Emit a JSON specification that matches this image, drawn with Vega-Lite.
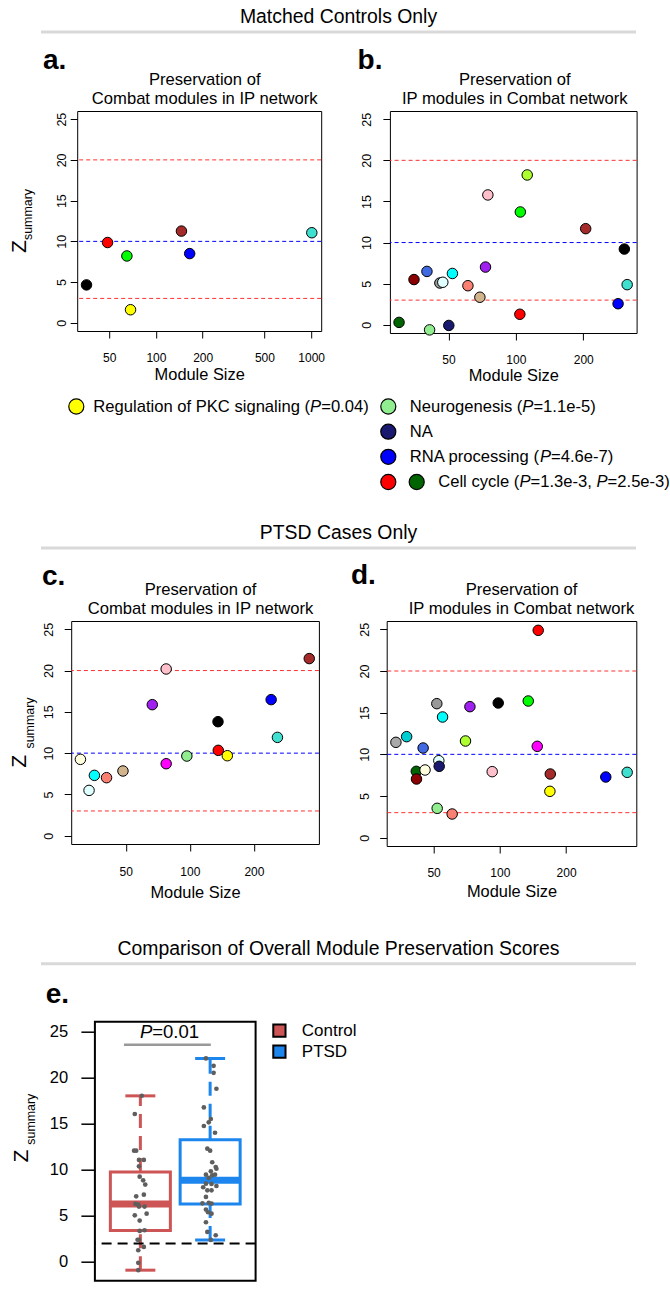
{
  "$schema": "https://vega.github.io/schema/vega-lite/v6.json",
  "padding": {"left": 0, "top": 6, "right": 0, "bottom": 0},
  "background": "white",
  "config": {
    "font": "Liberation Sans",
    "axis": {"labelColor": "black", "titleColor": "black", "tickColor": "black", "labelFont": "Liberation Sans", "titleFont": "Liberation Sans", "titleFontWeight": "normal", "grid": false, "domain": false},
    "title": {"color": "black", "font": "Liberation Sans", "fontWeight": "normal"},
    "text": {"font": "Liberation Sans", "color": "black"},
    "legend": {"labelFont": "Liberation Sans", "labelColor": "black"}
  },
  "datasets": {
    "thr": [{"v": 20, "c": "red"}, {"v": 10, "c": "blue"}, {"v": 3, "c": "red"}],
    "legtxt": [
      {"col": "L", "k": "s1", "row": 1, "piece": "L1a", "txt": "Regulation of PKC signaling ("},
      {"col": "L", "k": "s1", "row": 1, "piece": "L1p", "txt": "P"},
      {"col": "L", "k": "s1", "row": 1, "piece": "L1b", "txt": "=0.04)"},
      {"col": "R", "k": "s1", "row": 1, "piece": "R1a", "txt": "Neurogenesis ("},
      {"col": "R", "k": "s1", "row": 1, "piece": "R1p", "txt": "P"},
      {"col": "R", "k": "s1", "row": 1, "piece": "R1b", "txt": "=1.1e-5)"},
      {"col": "R", "k": "s1", "row": 2, "piece": "R2a", "txt": "NA"},
      {"col": "R", "k": "s1", "row": 3, "piece": "R3a", "txt": "RNA processing ("},
      {"col": "R", "k": "s1", "row": 3, "piece": "R3p", "txt": "P"},
      {"col": "R", "k": "s1", "row": 3, "piece": "R3b", "txt": "=4.6e-7)"},
      {"col": "R", "k": "s2", "row": 4, "piece": "R4a", "txt": "Cell cycle ("},
      {"col": "R", "k": "s2", "row": 4, "piece": "R4p", "txt": "P"},
      {"col": "R", "k": "s2", "row": 4, "piece": "R4b", "txt": "=1.3e-3,"},
      {"col": "R", "k": "s2", "row": 4, "piece": "R4q", "txt": "P"},
      {"col": "R", "k": "s2", "row": 4, "piece": "R4c", "txt": "=2.5e-3)"}
    ],
    "pa": [
      {"size": 35.7, "z": 4.66, "module": "black"},
      {"size": 48.8, "z": 9.86, "module": "red"},
      {"size": 65.0, "z": 8.21, "module": "green"},
      {"size": 68.6, "z": 1.61, "module": "yellow"},
      {"size": 146, "z": 11.26, "module": "brown"},
      {"size": 165, "z": 8.5, "module": "blue"},
      {"size": 1010, "z": 11.06, "module": "turquoise"}
    ],
    "pb": [
      {"size": 30.1, "z": 0.29, "module": "darkgreen"},
      {"size": 35.1, "z": 5.5, "module": "darkred"},
      {"size": 40.1, "z": 6.49, "module": "royalblue"},
      {"size": 41.2, "z": -0.62, "module": "lightgreen"},
      {"size": 45.8, "z": 5.08, "module": "grey60"},
      {"size": 47.2, "z": 5.17, "module": "lightcyan"},
      {"size": 50.2, "z": -0.08, "module": "midnightblue"},
      {"size": 52.1, "z": 6.24, "module": "cyan"},
      {"size": 61.1, "z": 4.75, "module": "salmon"},
      {"size": 69.1, "z": 3.35, "module": "tan"},
      {"size": 73.2, "z": 7.02, "module": "purple"},
      {"size": 75.0, "z": 15.79, "module": "pink"},
      {"size": 104.2, "z": 1.28, "module": "red"},
      {"size": 104.7, "z": 13.72, "module": "green"},
      {"size": 112.4, "z": 18.22, "module": "greenyellow"},
      {"size": 205, "z": 11.69, "module": "brown"},
      {"size": 286, "z": 2.56, "module": "blue"},
      {"size": 305, "z": 9.21, "module": "black"},
      {"size": 314, "z": 4.88, "module": "turquoise"}
    ],
    "pc": [
      {"size": 30.6, "z": 9.25, "module": "lightyellow"},
      {"size": 33.6, "z": 5.49, "module": "lightcyan"},
      {"size": 35.6, "z": 7.31, "module": "cyan"},
      {"size": 40.6, "z": 7.03, "module": "salmon"},
      {"size": 48.5, "z": 7.84, "module": "tan"},
      {"size": 66.6, "z": 15.87, "module": "purple"},
      {"size": 77.4, "z": 20.19, "module": "pink"},
      {"size": 77.4, "z": 8.72, "module": "magenta"},
      {"size": 96.8, "z": 9.65, "module": "lightgreen"},
      {"size": 135.6, "z": 13.81, "module": "black"},
      {"size": 136, "z": 10.34, "module": "red"},
      {"size": 150, "z": 9.69, "module": "yellow"},
      {"size": 241, "z": 16.48, "module": "blue"},
      {"size": 258, "z": 11.91, "module": "turquoise"},
      {"size": 364, "z": 21.45, "module": "brown"}
    ],
    "pd": [
      {"size": 33.7, "z": 11.44, "module": "darkgrey"},
      {"size": 37.7, "z": 12.12, "module": "darkturquoise"},
      {"size": 41.7, "z": 7.96, "module": "darkgreen"},
      {"size": 41.8, "z": 7.04, "module": "darkred"},
      {"size": 44.8, "z": 10.76, "module": "royalblue"},
      {"size": 45.7, "z": 8.12, "module": "lightyellow"},
      {"size": 51.7, "z": 16.08, "module": "grey60"},
      {"size": 51.9, "z": 3.52, "module": "lightgreen"},
      {"size": 52.8, "z": 9.24, "module": "lightcyan"},
      {"size": 53.0, "z": 8.56, "module": "midnightblue"},
      {"size": 54.9, "z": 14.48, "module": "cyan"},
      {"size": 60.7, "z": 2.84, "module": "salmon"},
      {"size": 69.8, "z": 11.6, "module": "greenyellow"},
      {"size": 73.1, "z": 15.72, "module": "purple"},
      {"size": 92.3, "z": 7.92, "module": "pink"},
      {"size": 98.3, "z": 16.16, "module": "black"},
      {"size": 134.6, "z": 16.4, "module": "green"},
      {"size": 147.9, "z": 10.96, "module": "magenta"},
      {"size": 149.4, "z": 24.88, "module": "red"},
      {"size": 169.5, "z": 7.64, "module": "brown"},
      {"size": 168.8, "z": 5.56, "module": "yellow"},
      {"size": 303, "z": 7.28, "module": "blue"},
      {"size": 379, "z": 7.84, "module": "turquoise"}
    ],
    "estats": [
      {"group": "Control", "pos": 1, "q1": 3.39, "q3": 9.75, "med": 6.28, "lo": -0.9, "hi": 18.0},
      {"group": "PTSD", "pos": 2, "q1": 6.28, "q3": 13.25, "med": 8.84, "lo": 2.38, "hi": 22.06}
    ],
    "epts": [
      {"group": "Control", "jx": 1.02, "z": 18.01}, {"group": "Control", "jx": 0.92, "z": 16.03},
      {"group": "Control", "jx": 0.91, "z": 12.06}, {"group": "Control", "jx": 0.94, "z": 12.06},
      {"group": "Control", "jx": 0.98, "z": 11.05}, {"group": "Control", "jx": 1.05, "z": 11.05},
      {"group": "Control", "jx": 0.98, "z": 10.36}, {"group": "Control", "jx": 0.99, "z": 9.24},
      {"group": "Control", "jx": 1.04, "z": 8.84}, {"group": "Control", "jx": 1.07, "z": 8.38},
      {"group": "Control", "jx": 0.94, "z": 7.11}, {"group": "Control", "jx": 1.05, "z": 7.29},
      {"group": "Control", "jx": 0.93, "z": 6.3}, {"group": "Control", "jx": 0.97, "z": 6.2},
      {"group": "Control", "jx": 0.98, "z": 6.0}, {"group": "Control", "jx": 1.06, "z": 6.0},
      {"group": "Control", "jx": 1.09, "z": 5.23}, {"group": "Control", "jx": 0.92, "z": 5.05},
      {"group": "Control", "jx": 0.99, "z": 4.48}, {"group": "Control", "jx": 0.99, "z": 3.36},
      {"group": "Control", "jx": 1.06, "z": 3.43}, {"group": "Control", "jx": 0.96, "z": 2.4},
      {"group": "Control", "jx": 0.98, "z": 2.4}, {"group": "Control", "jx": 1.05, "z": 1.62},
      {"group": "Control", "jx": 0.97, "z": 1.26}, {"group": "Control", "jx": 0.97, "z": -0.1},
      {"group": "Control", "jx": 0.97, "z": -0.9},
      {"group": "PTSD", "jx": 1.94, "z": 22.06}, {"group": "PTSD", "jx": 2.05, "z": 21.26},
      {"group": "PTSD", "jx": 2.05, "z": 20.5}, {"group": "PTSD", "jx": 2.09, "z": 18.77},
      {"group": "PTSD", "jx": 1.91, "z": 16.75}, {"group": "PTSD", "jx": 2.01, "z": 15.49},
      {"group": "PTSD", "jx": 1.98, "z": 15.13}, {"group": "PTSD", "jx": 1.91, "z": 14.73},
      {"group": "PTSD", "jx": 2.07, "z": 14.0}, {"group": "PTSD", "jx": 1.96, "z": 12.27},
      {"group": "PTSD", "jx": 2.0, "z": 12.06}, {"group": "PTSD", "jx": 2.03, "z": 10.8},
      {"group": "PTSD", "jx": 2.08, "z": 10.29}, {"group": "PTSD", "jx": 2.09, "z": 10.1},
      {"group": "PTSD", "jx": 2.01, "z": 9.82}, {"group": "PTSD", "jx": 1.94, "z": 9.46},
      {"group": "PTSD", "jx": 2.03, "z": 9.39}, {"group": "PTSD", "jx": 2.07, "z": 9.46},
      {"group": "PTSD", "jx": 1.98, "z": 9.1}, {"group": "PTSD", "jx": 1.94, "z": 8.48},
      {"group": "PTSD", "jx": 1.9, "z": 8.09}, {"group": "PTSD", "jx": 2.02, "z": 8.45},
      {"group": "PTSD", "jx": 2.09, "z": 8.23}, {"group": "PTSD", "jx": 1.96, "z": 7.76},
      {"group": "PTSD", "jx": 2.02, "z": 7.76}, {"group": "PTSD", "jx": 1.94, "z": 7.04},
      {"group": "PTSD", "jx": 1.98, "z": 6.39}, {"group": "PTSD", "jx": 1.89, "z": 6.35},
      {"group": "PTSD", "jx": 2.02, "z": 6.32}, {"group": "PTSD", "jx": 1.94, "z": 5.67},
      {"group": "PTSD", "jx": 1.97, "z": 5.38}, {"group": "PTSD", "jx": 2.02, "z": 5.23},
      {"group": "PTSD", "jx": 1.94, "z": 4.3}, {"group": "PTSD", "jx": 1.96, "z": 3.25},
      {"group": "PTSD", "jx": 2.08, "z": 2.89}, {"group": "PTSD", "jx": 2.01, "z": 2.38}
    ]
  },
  "columns": 1,
  "align": "none",
  "spacing": 35.7,
  "resolve": {"scale": {"x": "independent", "y": "independent", "fill": "independent", "stroke": "independent", "color": "independent"}, "axis": {"x": "independent", "y": "independent"}, "legend": {"fill": "independent", "stroke": "independent", "color": "independent"}},
  "concat": [
    {
      "columns": 1,
      "align": "none",
      "spacing": 0,
      "resolve": {"scale": {"x": "independent", "y": "independent", "fill": "independent", "stroke": "independent", "color": "independent"}, "axis": {"x": "independent", "y": "independent"}, "legend": {"fill": "independent", "stroke": "independent", "color": "independent"}},
      "concat": [
        {
          "spacing": 38,
          "resolve": {"scale": {"x": "independent", "y": "independent"}, "axis": {"x": "independent", "y": "independent"}},
          "hconcat": [
            {"width": 1, "height": 1, "view": {"stroke": null}, "data": {"values": [{}]}, "mark": {"type": "rule", "strokeOpacity": 0}, "encoding": {"x": {"datum": 0, "type": "quantitative", "axis": null}}},
            {
              "width": 595, "height": 14.3,
              "view": {"stroke": null},
              "title": {"text": "Matched Controls Only", "fontSize": 19.4, "fontWeight": "normal", "anchor": "middle", "frame": "group", "baseline": "alphabetic", "offset": -11.75},
              "data": {"values": [{}]},
              "mark": {"type": "rule", "color": "#d9d9d9", "strokeWidth": 3},
              "encoding": {
                "x": {"datum": 0, "type": "quantitative", "scale": {"domain": [0, 1]}, "axis": null},
                "x2": {"datum": 1},
                "y": {"datum": 1, "type": "quantitative", "scale": {"domain": [0, 1]}, "axis": null}
              }
            }
          ]
        },
        {
          "spacing": 6.2,
          "resolve": {"scale": {"x": "independent", "y": "independent"}, "axis": {"x": "independent", "y": "independent"}},
          "hconcat": [
            {"width": 1, "height": 1, "view": {"stroke": null}, "data": {"values": [{}]}, "mark": {"type": "rule", "strokeOpacity": 0}, "encoding": {"x": {"datum": 0, "type": "quantitative", "axis": null}}},
            {
              "spacing": 31.7,
              "resolve": {"scale": {"x": "independent", "y": "independent", "fill": "independent", "stroke": "independent"}, "axis": {"x": "independent", "y": "independent"}},
              "hconcat": [
                {
                  "title": {"text": "a.", "fontSize": 28, "fontWeight": "bold", "anchor": "start", "frame": "bounds", "baseline": "alphabetic", "offset": -25.2, "dx": 34.8},
                  "vconcat": [
                    {
                      "width": 244, "height": 220,
                      "view": {"stroke": "black", "strokeWidth": 1},
                      "title": {"text": ["Preservation of", "Combat modules in IP network"], "fontSize": 16.6, "fontWeight": "normal", "anchor": "middle", "frame": "group", "baseline": "alphabetic", "offset": -9.5, "lineHeight": 18.5, "dx": 5.5},
                      "resolve": {"axis": {"y": "independent"}},
                      "layer": [
                        {
                          "data": {"name": "thr"},
                          "mark": {"type": "rule", "strokeDash": [4, 3], "strokeWidth": 1},
                          "encoding": {
                            "y": {"field": "v", "type": "quantitative", "scale": {"domain": [-1, 26], "nice": false, "zero": false},
                              "axis": {"orient": "left", "values": [0, 5, 10, 15, 20, 25], "labelAngle": 270, "labelAlign": "center", "labelBaseline": "middle", "labelFontSize": 12.5, "labelPadding": 9, "tickSize": 7, "title": "Z", "titleFontSize": 21, "titleAngle": 270, "titleAlign": "center", "titleBaseline": "middle", "titleX": -57.6, "titleY": 135}},
                            "stroke": {"field": "c", "type": "nominal", "scale": {"domain": ["red", "blue"], "range": ["#FF3030", "#0000FF"]}, "legend": null}
                          }
                        },
                        {
                          "data": {"name": "pa"},
                          "mark": {"type": "circle", "size": 110, "stroke": "black", "strokeWidth": 1, "opacity": 1},
                          "encoding": {
                            "x": {"field": "size", "type": "quantitative", "scale": {"type": "log", "domain": [31.1, 1161], "nice": false},
                              "axis": {"values": [50, 100, 200, 500, 1000], "format": "d", "labelFontSize": 12, "labelPadding": 14.6, "tickSize": 7, "labelFlush": false, "labelOverlap": false, "title": "Module Size", "titleFontSize": 16.4, "titlePadding": 3.3}},
                            "y": {"field": "z", "type": "quantitative", "scale": {"domain": [-1, 26], "nice": false, "zero": false},
                              "axis": {"orient": "left", "labels": false, "ticks": false, "domain": false, "grid": false, "title": "summary", "titleFontSize": 12.4, "titleAngle": 270, "titleAlign": "center", "titleBaseline": "middle", "titleX": -49.3, "titleY": 103}},
                            "fill": {"field": "module", "type": "nominal", "legend": null, "scale": {"domain": ["turquoise","blue","brown","yellow","green","red","black","pink","magenta","purple","greenyellow","tan","salmon","cyan","midnightblue","lightcyan","grey60","lightgreen","lightyellow","royalblue","darkred","darkgreen","darkturquoise","darkgrey"], "range": ["#40E0D0","#0000FF","#A52A2A","#FFFF00","#00FF00","#FF0000","#000000","#FFC0CB","#FF00FF","#A020F0","#ADFF2F","#D2B48C","#FA8072","#00FFFF","#191970","#E0FFFF","#999999","#90EE90","#FFFFE0","#4169E1","#8B0000","#006400","#00CED1","#A9A9A9"]}}
                          }
                        }
                      ]
                    }
                  ]
                },
                {
                  "title": {"text": "b.", "fontSize": 28, "fontWeight": "bold", "anchor": "start", "frame": "group", "baseline": "alphabetic", "offset": -25.2, "dx": -32.3},
                  "vconcat": [
                    {
                      "width": 246.7, "height": 222,
                      "view": {"stroke": "black", "strokeWidth": 1},
                      "title": {"text": ["Preservation of", "IP modules in Combat network"], "fontSize": 16.6, "fontWeight": "normal", "anchor": "middle", "frame": "group", "baseline": "alphabetic", "offset": -9.5, "lineHeight": 18.5, "dx": 1.5},
                      "resolve": {"axis": {"y": "independent"}},
                      "layer": [
                        {
                          "data": {"name": "thr"},
                          "mark": {"type": "rule", "strokeDash": [4, 3], "strokeWidth": 1},
                          "encoding": {
                            "y": {"field": "v", "type": "quantitative", "scale": {"domain": [-1, 26], "nice": false, "zero": false},
                              "axis": {"orient": "left", "values": [0, 5, 10, 15, 20, 25], "labelAngle": 270, "labelAlign": "center", "labelBaseline": "middle", "labelFontSize": 12.5, "labelPadding": 16, "tickSize": 7, "title": null}},
                            "stroke": {"field": "c", "type": "nominal", "scale": {"domain": ["red", "blue"], "range": ["#FF3030", "#0000FF"]}, "legend": null}
                          }
                        },
                        {
                          "data": {"name": "pb"},
                          "mark": {"type": "circle", "size": 110, "stroke": "black", "strokeWidth": 1, "opacity": 1},
                          "encoding": {
                            "x": {"field": "size", "type": "quantitative", "scale": {"type": "log", "domain": [27.4, 346], "nice": false},
                              "axis": {"values": [50, 100, 200], "format": "d", "labelFontSize": 12, "labelPadding": 14.8, "tickSize": 7, "labelFlush": false, "labelOverlap": false, "title": "Module Size", "titleFontSize": 16.4, "titlePadding": 2}},
                            "y": {"field": "z", "type": "quantitative", "scale": {"domain": [-1, 26], "nice": false, "zero": false}, "axis": null},
                            "fill": {"field": "module", "type": "nominal", "legend": null, "scale": {"domain": ["turquoise","blue","brown","yellow","green","red","black","pink","magenta","purple","greenyellow","tan","salmon","cyan","midnightblue","lightcyan","grey60","lightgreen","lightyellow","royalblue","darkred","darkgreen","darkturquoise","darkgrey"], "range": ["#40E0D0","#0000FF","#A52A2A","#FFFF00","#00FF00","#FF0000","#000000","#FFC0CB","#FF00FF","#A020F0","#ADFF2F","#D2B48C","#FA8072","#00FFFF","#191970","#E0FFFF","#999999","#90EE90","#FFFFE0","#4169E1","#8B0000","#006400","#00CED1","#A9A9A9"]}}
                          }
                        }
                      ]
                    }
                  ]
                }
              ]
            }
          ]
        },
        {
          "width": 660, "height": 136.2,
          "view": {"stroke": null},
          "data": {"values": [
            {"col": "L", "k": "s1", "row": 1, "module": "yellow"},
            {"col": "R", "k": "s1", "row": 1, "module": "lightgreen"},
            {"col": "R", "k": "s1", "row": 2, "module": "midnightblue"},
            {"col": "R", "k": "s1", "row": 3, "module": "blue"},
            {"col": "R", "k": "s1", "row": 4, "module": "red"},
            {"col": "R", "k": "s2", "row": 4, "module": "darkgreen"}
          ]},
          "encoding": {
            "x": {"field": "col", "type": "nominal", "scale": {"type": "point", "domain": ["L", "R"], "range": [76.3, 388.3], "padding": 0}, "axis": null},
            "xOffset": {"field": "k", "type": "nominal", "scale": {"type": "point", "domain": ["s1", "s2"], "range": [0, 28.4], "padding": 0}},
            "y": {"field": "row", "type": "ordinal", "scale": {"type": "point", "domain": [1, 2, 3, 4], "range": [21.5, 97], "padding": 0}, "axis": null}
          },
          "layer": [
            {
              "mark": {"type": "circle", "size": 227, "stroke": "black", "strokeWidth": 1.2, "opacity": 1},
              "encoding": {
                "fill": {"field": "module", "type": "nominal", "legend": null, "scale": {"domain": ["yellow", "lightgreen", "midnightblue", "blue", "red", "darkgreen"], "range": ["#FFFF00", "#90EE90", "#191970", "#0000FF", "#FF0000", "#006400"]}}
              }
            },
            {"data": {"name": "legtxt"}, "transform": [{"filter": {"field": "piece", "equal": "L1a"}}], "mark": {"type": "text", "align": "left", "baseline": "middle", "dx": 17, "fontSize": 16.6}, "encoding": {"text": {"field": "txt"}}},
            {"data": {"name": "legtxt"}, "transform": [{"filter": {"field": "piece", "equal": "L1p"}}], "mark": {"type": "text", "align": "left", "baseline": "middle", "dx": 233.8, "fontSize": 16.6, "fontStyle": "italic"}, "encoding": {"text": {"field": "txt"}}},
            {"data": {"name": "legtxt"}, "transform": [{"filter": {"field": "piece", "equal": "L1b"}}], "mark": {"type": "text", "align": "left", "baseline": "middle", "dx": 244.9, "fontSize": 16.6}, "encoding": {"text": {"field": "txt"}}},
            {"data": {"name": "legtxt"}, "transform": [{"filter": {"field": "piece", "oneOf": ["R1a", "R2a", "R3a", "R4a"]}}], "mark": {"type": "text", "align": "left", "baseline": "middle", "dx": 21.5, "fontSize": 16.6}, "encoding": {"text": {"field": "txt"}}},
            {"data": {"name": "legtxt"}, "transform": [{"filter": {"field": "piece", "equal": "R1p"}}], "mark": {"type": "text", "align": "left", "baseline": "middle", "dx": 134.0, "fontSize": 16.6, "fontStyle": "italic"}, "encoding": {"text": {"field": "txt"}}},
            {"data": {"name": "legtxt"}, "transform": [{"filter": {"field": "piece", "equal": "R1b"}}], "mark": {"type": "text", "align": "left", "baseline": "middle", "dx": 145.1, "fontSize": 16.6}, "encoding": {"text": {"field": "txt"}}},
            {"data": {"name": "legtxt"}, "transform": [{"filter": {"field": "piece", "equal": "R3p"}}], "mark": {"type": "text", "align": "left", "baseline": "middle", "dx": 151.6, "fontSize": 16.6, "fontStyle": "italic"}, "encoding": {"text": {"field": "txt"}}},
            {"data": {"name": "legtxt"}, "transform": [{"filter": {"field": "piece", "equal": "R3b"}}], "mark": {"type": "text", "align": "left", "baseline": "middle", "dx": 162.7, "fontSize": 16.6}, "encoding": {"text": {"field": "txt"}}},
            {"data": {"name": "legtxt"}, "transform": [{"filter": {"field": "piece", "equal": "R4p"}}], "mark": {"type": "text", "align": "left", "baseline": "middle", "dx": 102.7, "fontSize": 16.6, "fontStyle": "italic"}, "encoding": {"text": {"field": "txt"}}},
            {"data": {"name": "legtxt"}, "transform": [{"filter": {"field": "piece", "equal": "R4b"}}], "mark": {"type": "text", "align": "left", "baseline": "middle", "dx": 113.8, "fontSize": 16.6}, "encoding": {"text": {"field": "txt"}}},
            {"data": {"name": "legtxt"}, "transform": [{"filter": {"field": "piece", "equal": "R4q"}}], "mark": {"type": "text", "align": "left", "baseline": "middle", "dx": 179.8, "fontSize": 16.6, "fontStyle": "italic"}, "encoding": {"text": {"field": "txt"}}},
            {"data": {"name": "legtxt"}, "transform": [{"filter": {"field": "piece", "equal": "R4c"}}], "mark": {"type": "text", "align": "left", "baseline": "middle", "dx": 190.9, "fontSize": 16.6}, "encoding": {"text": {"field": "txt"}}}
          ]
        },
        {
          "spacing": 38,
          "resolve": {"scale": {"x": "independent", "y": "independent"}, "axis": {"x": "independent", "y": "independent"}},
          "hconcat": [
            {"width": 1, "height": 1, "view": {"stroke": null}, "data": {"values": [{}]}, "mark": {"type": "rule", "strokeOpacity": 0}, "encoding": {"x": {"datum": 0, "type": "quantitative", "axis": null}}},
            {
              "width": 595, "height": 12.2,
              "view": {"stroke": null},
              "title": {"text": "PTSD Cases Only", "fontSize": 19.4, "fontWeight": "normal", "anchor": "middle", "frame": "group", "baseline": "alphabetic", "offset": -11.75},
              "data": {"values": [{}]},
              "mark": {"type": "rule", "color": "#d9d9d9", "strokeWidth": 3},
              "encoding": {
                "x": {"datum": 0, "type": "quantitative", "scale": {"domain": [0, 1]}, "axis": null},
                "x2": {"datum": 1},
                "y": {"datum": 1, "type": "quantitative", "scale": {"domain": [0, 1]}, "axis": null}
              }
            }
          ]
        },
        {
          "spacing": 7.2,
          "resolve": {"scale": {"x": "independent", "y": "independent"}, "axis": {"x": "independent", "y": "independent"}},
          "hconcat": [
            {"width": 1, "height": 1, "view": {"stroke": null}, "data": {"values": [{}]}, "mark": {"type": "rule", "strokeOpacity": 0}, "encoding": {"x": {"datum": 0, "type": "quantitative", "axis": null}}},
            {
              "spacing": 30.5,
              "resolve": {"scale": {"x": "independent", "y": "independent", "fill": "independent", "stroke": "independent"}, "axis": {"x": "independent", "y": "independent"}},
              "hconcat": [
                {
                  "title": {"text": "c.", "fontSize": 28, "fontWeight": "bold", "anchor": "start", "frame": "bounds", "baseline": "alphabetic", "offset": -30.8, "dx": 33.5},
                  "vconcat": [
                    {
                      "width": 247.7, "height": 223,
                      "view": {"stroke": "black", "strokeWidth": 1},
                      "title": {"text": ["Preservation of", "Combat modules in IP network"], "fontSize": 16.6, "fontWeight": "normal", "anchor": "middle", "frame": "group", "baseline": "alphabetic", "offset": -9.3, "lineHeight": 18.5, "dx": 5.5},
                      "resolve": {"axis": {"y": "independent"}},
                      "layer": [
                        {
                          "data": {"name": "thr"},
                          "mark": {"type": "rule", "strokeDash": [4, 3], "strokeWidth": 1},
                          "encoding": {
                            "y": {"field": "v", "type": "quantitative", "scale": {"domain": [-1, 26], "nice": false, "zero": false},
                              "axis": {"orient": "left", "values": [0, 5, 10, 15, 20, 25], "labelAngle": 270, "labelAlign": "center", "labelBaseline": "middle", "labelFontSize": 12.5, "labelPadding": 16, "tickSize": 7, "title": "Z", "titleFontSize": 21, "titleAngle": 270, "titleAlign": "center", "titleBaseline": "middle", "titleX": -51.2, "titleY": 139.8}},
                            "stroke": {"field": "c", "type": "nominal", "scale": {"domain": ["red", "blue"], "range": ["#FF3030", "#0000FF"]}, "legend": null}
                          }
                        },
                        {
                          "data": {"name": "pc"},
                          "mark": {"type": "circle", "size": 110, "stroke": "black", "strokeWidth": 1, "opacity": 1},
                          "encoding": {
                            "x": {"field": "size", "type": "quantitative", "scale": {"type": "log", "domain": [27.7, 404], "nice": false},
                              "axis": {"values": [50, 100, 200], "format": "d", "labelFontSize": 12, "labelPadding": 15.2, "tickSize": 7, "labelFlush": false, "labelOverlap": false, "title": "Module Size", "titleFontSize": 16.4, "titlePadding": 7.1}},
                            "y": {"field": "z", "type": "quantitative", "scale": {"domain": [-1, 26], "nice": false, "zero": false},
                              "axis": {"orient": "left", "labels": false, "ticks": false, "domain": false, "grid": false, "title": "summary", "titleFontSize": 12.4, "titleAngle": 270, "titleAlign": "center", "titleBaseline": "middle", "titleX": -41.3, "titleY": 101.5}},
                            "fill": {"field": "module", "type": "nominal", "legend": null, "scale": {"domain": ["turquoise","blue","brown","yellow","green","red","black","pink","magenta","purple","greenyellow","tan","salmon","cyan","midnightblue","lightcyan","grey60","lightgreen","lightyellow","royalblue","darkred","darkgreen","darkturquoise","darkgrey"], "range": ["#40E0D0","#0000FF","#A52A2A","#FFFF00","#00FF00","#FF0000","#000000","#FFC0CB","#FF00FF","#A020F0","#ADFF2F","#D2B48C","#FA8072","#00FFFF","#191970","#E0FFFF","#999999","#90EE90","#FFFFE0","#4169E1","#8B0000","#006400","#00CED1","#A9A9A9"]}}
                          }
                        }
                      ]
                    }
                  ]
                },
                {
                  "title": {"text": "d.", "fontSize": 28, "fontWeight": "bold", "anchor": "start", "frame": "group", "baseline": "alphabetic", "offset": -30.2, "dx": -35.7},
                  "vconcat": [
                    {
                      "width": 249.6, "height": 225,
                      "view": {"stroke": "black", "strokeWidth": 1},
                      "title": {"text": ["Preservation of", "IP modules in Combat network"], "fontSize": 16.6, "fontWeight": "normal", "anchor": "middle", "frame": "group", "baseline": "alphabetic", "offset": -9.2, "lineHeight": 18.5, "dx": 10},
                      "resolve": {"axis": {"y": "independent"}},
                      "layer": [
                        {
                          "data": {"name": "thr"},
                          "mark": {"type": "rule", "strokeDash": [4, 3], "strokeWidth": 1},
                          "encoding": {
                            "y": {"field": "v", "type": "quantitative", "scale": {"domain": [-1, 26], "nice": false, "zero": false},
                              "axis": {"orient": "left", "values": [0, 5, 10, 15, 20, 25], "labelAngle": 270, "labelAlign": "center", "labelBaseline": "middle", "labelFontSize": 12.5, "labelPadding": 15.7, "tickSize": 7, "title": null}},
                            "stroke": {"field": "c", "type": "nominal", "scale": {"domain": ["red", "blue"], "range": ["#FF3030", "#0000FF"]}, "legend": null}
                          }
                        },
                        {
                          "data": {"name": "pd"},
                          "mark": {"type": "circle", "size": 110, "stroke": "black", "strokeWidth": 1, "opacity": 1},
                          "encoding": {
                            "x": {"field": "size", "type": "quantitative", "scale": {"type": "log", "domain": [30.6, 417], "nice": false},
                              "axis": {"values": [50, 100, 200], "format": "d", "labelFontSize": 12, "labelPadding": 14.5, "tickSize": 7, "labelFlush": false, "labelOverlap": false, "title": "Module Size", "titleFontSize": 16.4, "titlePadding": 5.4}},
                            "y": {"field": "z", "type": "quantitative", "scale": {"domain": [-1, 26], "nice": false, "zero": false}, "axis": null},
                            "fill": {"field": "module", "type": "nominal", "legend": null, "scale": {"domain": ["turquoise","blue","brown","yellow","green","red","black","pink","magenta","purple","greenyellow","tan","salmon","cyan","midnightblue","lightcyan","grey60","lightgreen","lightyellow","royalblue","darkred","darkgreen","darkturquoise","darkgrey"], "range": ["#40E0D0","#0000FF","#A52A2A","#FFFF00","#00FF00","#FF0000","#000000","#FFC0CB","#FF00FF","#A020F0","#ADFF2F","#D2B48C","#FA8072","#00FFFF","#191970","#E0FFFF","#999999","#90EE90","#FFFFE0","#4169E1","#8B0000","#006400","#00CED1","#A9A9A9"]}}
                          }
                        }
                      ]
                    }
                  ]
                }
              ]
            }
          ]
        }
      ]
    },
    {
      "columns": 1,
      "align": "none",
      "spacing": 0,
      "resolve": {"scale": {"x": "independent", "y": "independent", "fill": "independent", "stroke": "independent", "color": "independent"}, "axis": {"x": "independent", "y": "independent"}, "legend": {"fill": "independent", "stroke": "independent", "color": "independent"}},
      "concat": [
        {
          "spacing": 38,
          "resolve": {"scale": {"x": "independent", "y": "independent"}, "axis": {"x": "independent", "y": "independent"}},
          "hconcat": [
            {"width": 1, "height": 1, "view": {"stroke": null}, "data": {"values": [{}]}, "mark": {"type": "rule", "strokeOpacity": 0}, "encoding": {"x": {"datum": 0, "type": "quantitative", "axis": null}}},
            {
              "width": 595, "height": 16.7,
              "view": {"stroke": null},
              "title": {"text": "Comparison of Overall Module Preservation Scores", "fontSize": 19.4, "fontWeight": "normal", "anchor": "middle", "frame": "group", "baseline": "alphabetic", "offset": -11.75},
              "data": {"values": [{}]},
              "mark": {"type": "rule", "color": "#d9d9d9", "strokeWidth": 3},
              "encoding": {
                "x": {"datum": 0, "type": "quantitative", "scale": {"domain": [0, 1]}, "axis": null},
                "x2": {"datum": 1},
                "y": {"datum": 1, "type": "quantitative", "scale": {"domain": [0, 1]}, "axis": null}
              }
            }
          ]
        },
        {
          "spacing": 7.9,
          "resolve": {"scale": {"x": "independent", "y": "independent", "fill": "independent", "stroke": "independent", "color": "independent"}, "axis": {"x": "independent", "y": "independent"}, "legend": {"fill": "independent", "stroke": "independent", "color": "independent"}},
          "hconcat": [
            {"width": 1, "height": 1, "view": {"stroke": null}, "data": {"values": [{}]}, "mark": {"type": "rule", "strokeOpacity": 0}, "encoding": {"x": {"datum": 0, "type": "quantitative", "axis": null}}},
            {
              "spacing": 11,
              "resolve": {"scale": {"x": "independent", "y": "independent", "fill": "independent", "stroke": "independent", "color": "independent"}, "axis": {"x": "independent", "y": "independent"}, "legend": {"fill": "independent", "stroke": "independent", "color": "independent"}},
              "hconcat": [
                {
                  "title": {"text": "e.", "fontSize": 28, "fontWeight": "bold", "anchor": "start", "frame": "bounds", "baseline": "alphabetic", "offset": -10, "dx": 36.1},
                  "vconcat": [
                    {
                      "width": 160.7, "height": 259,
                      "view": {"stroke": "black", "strokeWidth": 2},
                      "resolve": {"axis": {"y": "independent"}},
                      "layer": [
                        {
                          "data": {"name": "estats"},
                          "mark": {"type": "bar", "width": 60, "fill": "white", "strokeWidth": 3},
                          "encoding": {
                            "x": {"field": "pos", "type": "quantitative", "scale": {"domain": [0.42, 2.58], "nice": false, "zero": false},
                              "axis": {"values": [1, 2], "labels": false, "tickSize": 16, "tickWidth": 2, "title": null}},
                            "y": {"field": "q1", "type": "quantitative", "scale": {"domain": [-2.04, 26.04], "nice": false, "zero": false},
                              "axis": {"orient": "left", "values": [0, 5, 10, 15, 20, 25], "labelAngle": 0, "labelAlign": "right", "labelBaseline": "middle", "labelFontSize": 16.5, "labelPadding": 13.3, "tickSize": 14, "tickWidth": 1.5, "title": "Z", "titleFontSize": 21, "titleAngle": 270, "titleAlign": "center", "titleBaseline": "middle", "titleX": -73.2, "titleY": 134}},
                            "y2": {"field": "q3"},
                            "stroke": {"field": "group", "type": "nominal", "scale": {"domain": ["Control", "PTSD"], "range": ["#CD5555", "#1C86EE"]}, "legend": null}
                          }
                        },
                        {
                          "data": {"name": "estats"},
                          "mark": {"type": "rule", "strokeWidth": 3, "strokeDash": [14, 8]},
                          "encoding": {
                            "x": {"field": "pos", "type": "quantitative", "scale": {"domain": [0.42, 2.58], "nice": false, "zero": false}, "axis": null},
                            "y": {"field": "q3", "type": "quantitative", "scale": {"domain": [-2.04, 26.04], "nice": false, "zero": false}, "axis": null},
                            "y2": {"field": "hi"},
                            "stroke": {"field": "group", "type": "nominal", "scale": {"domain": ["Control", "PTSD"], "range": ["#CD5555", "#1C86EE"]}, "legend": null}
                          }
                        },
                        {
                          "data": {"name": "estats"},
                          "mark": {"type": "rule", "strokeWidth": 3, "strokeDash": [14, 8]},
                          "encoding": {
                            "x": {"field": "pos", "type": "quantitative", "scale": {"domain": [0.42, 2.58], "nice": false, "zero": false}, "axis": null},
                            "y": {"field": "lo", "type": "quantitative", "scale": {"domain": [-2.04, 26.04], "nice": false, "zero": false}, "axis": null},
                            "y2": {"field": "q1"},
                            "stroke": {"field": "group", "type": "nominal", "scale": {"domain": ["Control", "PTSD"], "range": ["#CD5555", "#1C86EE"]}, "legend": null}
                          }
                        },
                        {
                          "data": {"name": "estats"},
                          "mark": {"type": "tick", "orient": "horizontal", "size": 30, "thickness": 3, "opacity": 1},
                          "encoding": {
                            "x": {"field": "pos", "type": "quantitative", "scale": {"domain": [0.42, 2.58], "nice": false, "zero": false}, "axis": null},
                            "y": {"field": "hi", "type": "quantitative", "scale": {"domain": [-2.04, 26.04], "nice": false, "zero": false}, "axis": null},
                            "color": {"field": "group", "type": "nominal", "scale": {"domain": ["Control", "PTSD"], "range": ["#CD5555", "#1C86EE"]}, "legend": null}
                          }
                        },
                        {
                          "data": {"name": "estats"},
                          "mark": {"type": "tick", "orient": "horizontal", "size": 30, "thickness": 3, "opacity": 1},
                          "encoding": {
                            "x": {"field": "pos", "type": "quantitative", "scale": {"domain": [0.42, 2.58], "nice": false, "zero": false}, "axis": null},
                            "y": {"field": "lo", "type": "quantitative", "scale": {"domain": [-2.04, 26.04], "nice": false, "zero": false}, "axis": null},
                            "color": {"field": "group", "type": "nominal", "scale": {"domain": ["Control", "PTSD"], "range": ["#CD5555", "#1C86EE"]}, "legend": null}
                          }
                        },
                        {
                          "data": {"name": "estats"},
                          "mark": {"type": "tick", "orient": "horizontal", "size": 60, "thickness": 7, "opacity": 1},
                          "encoding": {
                            "x": {"field": "pos", "type": "quantitative", "scale": {"domain": [0.42, 2.58], "nice": false, "zero": false}, "axis": null},
                            "y": {"field": "med", "type": "quantitative", "scale": {"domain": [-2.04, 26.04], "nice": false, "zero": false}, "axis": null},
                            "color": {"field": "group", "type": "nominal", "scale": {"domain": ["Control", "PTSD"], "range": ["#CD5555", "#1C86EE"]}, "legend": null}
                          }
                        },
                        {
                          "data": {"values": [{"thr": 2}]},
                          "mark": {"type": "rule", "color": "black", "strokeWidth": 2, "strokeDash": [10, 6]},
                          "encoding": {
                            "y": {"field": "thr", "type": "quantitative", "scale": {"domain": [-2.04, 26.04], "nice": false, "zero": false}, "axis": null}
                          }
                        },
                        {
                          "data": {"values": [{"x1": 0.765, "x2": 2.01, "yv": 23.54}]},
                          "mark": {"type": "rule", "color": "#999999", "strokeWidth": 2.5},
                          "encoding": {
                            "x": {"field": "x1", "type": "quantitative", "scale": {"domain": [0.42, 2.58], "nice": false, "zero": false}, "axis": null},
                            "x2": {"field": "x2"},
                            "y": {"field": "yv", "type": "quantitative", "scale": {"domain": [-2.04, 26.04], "nice": false, "zero": false}, "axis": null}
                          }
                        },
                        {
                          "data": {"values": [{"xm": 1.5, "yv": 24.9}]},
                          "mark": {"type": "text", "text": "P", "fontStyle": "italic", "align": "right", "baseline": "middle", "dx": -23, "fontSize": 18.5},
                          "encoding": {
                            "x": {"field": "xm", "type": "quantitative", "scale": {"domain": [0.42, 2.58], "nice": false, "zero": false}, "axis": null},
                            "y": {"field": "yv", "type": "quantitative", "scale": {"domain": [-2.04, 26.04], "nice": false, "zero": false}, "axis": null}
                          }
                        },
                        {
                          "data": {"values": [{"xm": 1.5, "yv": 24.9}]},
                          "mark": {"type": "text", "text": "=0.01", "align": "left", "baseline": "middle", "dx": -23, "fontSize": 18.5},
                          "encoding": {
                            "x": {"field": "xm", "type": "quantitative", "scale": {"domain": [0.42, 2.58], "nice": false, "zero": false}, "axis": null},
                            "y": {"field": "yv", "type": "quantitative", "scale": {"domain": [-2.04, 26.04], "nice": false, "zero": false}, "axis": null}
                          }
                        },
                        {
                          "data": {"name": "epts"},
                          "mark": {"type": "circle", "size": 22, "color": "#5E5E5E", "opacity": 1},
                          "encoding": {
                            "x": {"field": "jx", "type": "quantitative", "scale": {"domain": [0.42, 2.58], "nice": false, "zero": false}, "axis": null},
                            "y": {"field": "z", "type": "quantitative", "scale": {"domain": [-2.04, 26.04], "nice": false, "zero": false},
                              "axis": {"orient": "left", "labels": false, "ticks": false, "domain": false, "grid": false, "title": "summary", "titleFontSize": 12.4, "titleAngle": 270, "titleAlign": "center", "titleBaseline": "middle", "titleX": -64.9, "titleY": 97}}
                          }
                        }
                      ]
                    }
                  ]
                },
                {
                  "width": 1, "height": 40,
                  "view": {"stroke": null},
                  "data": {"values": [{"group": "Control"}, {"group": "PTSD"}]},
                  "encoding": {
                    "y": {"field": "group", "type": "nominal", "scale": {"type": "point", "domain": ["Control", "PTSD"], "range": [9, 30], "padding": 0}, "axis": null}
                  },
                  "layer": [
                    {
                      "mark": {"type": "square", "size": 150, "stroke": "black", "strokeWidth": 2, "opacity": 1},
                      "encoding": {
                        "fill": {"field": "group", "type": "nominal", "scale": {"domain": ["Control", "PTSD"], "range": ["#CD5555", "#1C86EE"]}, "legend": null}
                      }
                    },
                    {
                      "mark": {"type": "text", "align": "left", "baseline": "middle", "dx": 22.4, "fontSize": 17},
                      "encoding": {"text": {"field": "group"}}
                    }
                  ]
                }
              ]
            }
          ]
        }
      ]
    }
  ]
}
